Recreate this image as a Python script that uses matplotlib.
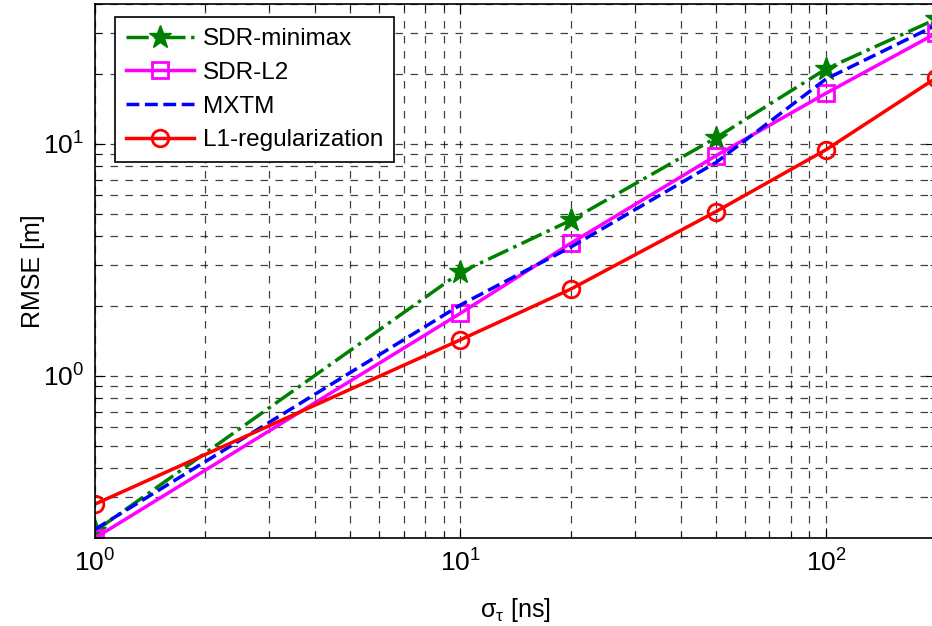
import matplotlib
matplotlib.use("Agg")
import matplotlib.pyplot as plt
from matplotlib.ticker import LogLocator, NullFormatter

plt.rcParams['font.family'] = ['Liberation Sans', 'DejaVu Sans']
plt.rcParams['mathtext.fontset'] = 'custom'
plt.rcParams['mathtext.rm'] = 'Liberation Sans'
plt.rcParams['mathtext.it'] = 'Liberation Sans:italic'

sigma_ns = [1, 10, 20, 50, 100, 200]
sdr_minimax = [0.214, 2.79, 4.67, 10.6, 21.0, 34.4]
sdr_l2 = [0.20, 1.86, 3.72, 8.88, 16.5, 29.9]
mxtm = [0.218, 2.02, 3.58, 8.3, 19.0, 32.4]
l1_reg = [0.28, 1.43, 2.36, 5.1, 9.42, 19.2]

fig = plt.figure(figsize=(9.32, 6.26), dpi=100)
ax = fig.add_axes([95 / 932, (626 - 538) / 626, (936 - 95) / 932, (538 - 4) / 626])

ax.loglog(sigma_ns, sdr_minimax, color='green', linestyle='-.', linewidth=2.5,
          marker='*', markersize=17, label='SDR-minimax')
ax.loglog(sigma_ns, sdr_l2, color='magenta', linestyle='-', linewidth=2.5,
          marker='s', markersize=12, markerfacecolor='none', markeredgewidth=2,
          label='SDR-L2')
ax.loglog(sigma_ns, mxtm, color='blue', linestyle='--', linewidth=2.5,
          label='MXTM')
ax.loglog(sigma_ns, l1_reg, color='red', linestyle='-', linewidth=2.5,
          marker='o', markersize=12, markerfacecolor='none', markeredgewidth=2,
          label='L1-regularization')

ax.set_xlim(1, 200)
ax.set_ylim(0.2, 40)

for axis in (ax.xaxis, ax.yaxis):
    axis.set_major_locator(LogLocator(base=10))
    axis.set_minor_locator(LogLocator(base=10, subs=range(2, 10)))
    axis.set_minor_formatter(NullFormatter())

ax.grid(True, which='both', color='black', linestyle=(0, (6, 6)), linewidth=0.9, alpha=0.75)
ax.tick_params(which='both', direction='in', top=True, right=True, labelsize=19)
ax.tick_params(which='major', length=7, pad=8)
ax.tick_params(which='minor', length=4)
for s in ax.spines.values():
    s.set_linewidth(1.2)

ax.set_xlabel(r'$\mathrm{\sigma_\tau}$ [ns]', fontsize=18, labelpad=14)
ax.set_ylabel('RMSE [m]', fontsize=18, labelpad=-2)

leg = ax.legend(loc='upper left', bbox_to_anchor=(0.024, 0.975), fontsize=17.5,
                fancybox=False, framealpha=1, edgecolor='black',
                handlelength=2.8, handletextpad=0.35, borderpad=0.45,
                labelspacing=0.48, borderaxespad=0)
leg.get_frame().set_linewidth(1.2)

fig.savefig('out.png', dpi=100)
